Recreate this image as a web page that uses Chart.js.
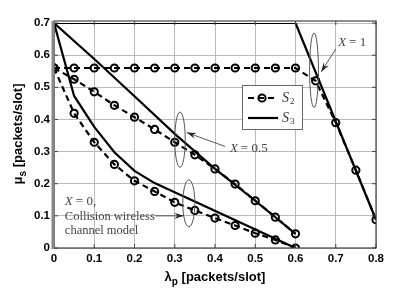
<!DOCTYPE html>
<html>
<head>
<meta charset="utf-8">
<script src="https://cdn.jsdelivr.net/npm/chart.js@4.4.1/dist/chart.umd.min.js"></script>
<style>
  html, body { margin: 0; padding: 0; background: #fff; }
  #wrap { width: 415px; height: 288px; position: relative; }
</style>
</head>
<body>
<div id="wrap"><canvas id="c"></canvas></div>
<script>
// --- data ---
const xTicks = [0, 0.1, 0.2, 0.3, 0.4, 0.5, 0.6, 0.7, 0.8];
const yTicks = [0, 0.1, 0.2, 0.3, 0.4, 0.5, 0.6, 0.7];

// X = 1
const s3x1_x = [0, 0.6, 0.8];
const s3x1_y = [0.7, 0.7, 0.088];
const s2x1_x = [0, 0.05, 0.1, 0.15, 0.2, 0.25, 0.3, 0.35, 0.4, 0.45, 0.5, 0.55, 0.6, 0.65, 0.7, 0.75, 0.8];
const s2x1_y = [0.56, 0.56, 0.56, 0.56, 0.56, 0.56, 0.56, 0.56, 0.56, 0.56, 0.56, 0.56, 0.56, 0.52, 0.39, 0.242, 0.088];

// X = 0.5
const s3x05_x = [0, 0.1, 0.2, 0.3, 0.4, 0.5, 0.6];
const s3x05_y = [0.7, 0.588, 0.472, 0.355, 0.246, 0.147, 0.044];
const s2x05_x = [0, 0.05, 0.1, 0.15, 0.2, 0.25, 0.3, 0.35, 0.4, 0.45, 0.5, 0.55, 0.6];
const s2x05_y = [0.56, 0.525, 0.486, 0.444, 0.407, 0.369, 0.329, 0.29, 0.246, 0.199, 0.147, 0.096, 0.044];

// X = 0 (collision channel)
const s3x0_x = [0, 0.05, 0.1, 0.15, 0.2, 0.25, 0.6];
const s3x0_y = [0.7, 0.473, 0.377, 0.298, 0.24, 0.202, 0];
const s2x0_x = [0, 0.05, 0.1, 0.15, 0.2, 0.25, 0.3, 0.35, 0.4, 0.45, 0.5, 0.55, 0.6];
const s2x0_y = [0.56, 0.419, 0.329, 0.26, 0.209, 0.176, 0.142, 0.117, 0.093, 0.07, 0.046, 0.025, 0];

const pts = (xs, ys) => xs.map((x, i) => ({ x: x, y: ys[i] }));

const solid = (xs, ys) => ({
    data: pts(xs, ys), borderColor: '#000', borderWidth: 2.2,
    pointRadius: 0, tension: 0, fill: false
});
const dashed = (xs, ys) => ({
    data: pts(xs, ys), borderColor: '#000', borderWidth: 2.2, borderDash: [6, 4],
    pointRadius: 3.6, pointBorderWidth: 2, pointBorderColor: '#000',
    pointBackgroundColor: 'rgba(0,0,0,0)', tension: 0, fill: false
});

const tickFont = { family: '"Liberation Sans", Arial, sans-serif', size: 11.5, weight: 'bold' };

// --- overlay: frame, axis titles, legend, notes ---
const overlay = {
    id: 'overlay',
    afterDraw(chart) {
        const ctx = chart.ctx, a = chart.chartArea;
        const xs = chart.scales.x, ys = chart.scales.y;
        const X = v => xs.getPixelForValue(v), Y = v => ys.getPixelForValue(v);
        ctx.save();

        // frame + inward ticks
        ctx.strokeStyle = '#444'; ctx.lineWidth = 1.2;
        ctx.strokeRect(a.left, a.top - 2, a.right - a.left, a.bottom - a.top + 2);
        ctx.lineWidth = 1;
        ctx.beginPath();
        xTicks.forEach(v => {
            ctx.moveTo(X(v), a.bottom); ctx.lineTo(X(v), a.bottom - 4);
            ctx.moveTo(X(v), a.top - 2); ctx.lineTo(X(v), a.top + 2);
        });
        yTicks.forEach(v => {
            ctx.moveTo(a.left, Y(v)); ctx.lineTo(a.left + 4, Y(v));
            ctx.moveTo(a.right, Y(v)); ctx.lineTo(a.right - 4, Y(v));
        });
        ctx.stroke();
        ctx.strokeStyle = '#888'; ctx.lineWidth = 3;
        ctx.beginPath(); ctx.moveTo(a.left - 1, a.top - 2); ctx.lineTo(a.left - 1, a.bottom + 1); ctx.stroke();

        // axis titles
        ctx.fillStyle = '#000';
        ctx.font = 'bold 13px "Liberation Sans", Arial, sans-serif';
        ctx.textBaseline = 'alphabetic';
        const xt1 = '\u03bb', xt2 = 'p', xt3 = ' [packets/slot]';
        const w1 = ctx.measureText(xt1).width, w3 = ctx.measureText(xt3).width;
        ctx.font = 'bold 10px "Liberation Sans", Arial, sans-serif';
        const w2 = ctx.measureText(xt2).width;
        let sx = (a.left + a.right) / 2 - (w1 + w2 + w3) / 2, by = 281;
        ctx.font = 'bold 13px "Liberation Sans", Arial, sans-serif';
        ctx.fillText(xt1, sx, by);
        ctx.font = 'bold 10px "Liberation Sans", Arial, sans-serif';
        ctx.fillText(xt2, sx + w1, by + 4);
        ctx.font = 'bold 13px "Liberation Sans", Arial, sans-serif';
        ctx.fillText(xt3, sx + w1 + w2, by);

        ctx.save();
        ctx.translate(22, 134);
        ctx.rotate(-Math.PI / 2);
        const yt1 = '\u03bc', yt2 = 's', yt3 = ' [packets/slot]';
        const v1 = ctx.measureText(yt1).width, v3 = ctx.measureText(yt3).width;
        ctx.font = 'bold 10px "Liberation Sans", Arial, sans-serif';
        const v2 = ctx.measureText(yt2).width;
        let tx = -(v1 + v2 + v3) / 2;
        ctx.font = 'bold 13px "Liberation Sans", Arial, sans-serif';
        ctx.fillText(yt1, tx, 0);
        ctx.font = 'bold 10px "Liberation Sans", Arial, sans-serif';
        ctx.fillText(yt2, tx + v1, 4);
        ctx.font = 'bold 13px "Liberation Sans", Arial, sans-serif';
        ctx.fillText(yt3, tx + v1 + v2, 0);
        ctx.restore();

        // ellipses
        ctx.strokeStyle = '#555'; ctx.lineWidth = 1;
        const ell = (cx, cy, rx, ry) => {
            ctx.beginPath();
            ctx.ellipse(X(cx), Y(cy), Math.abs(X(cx + rx) - X(cx)), Math.abs(Y(cy + ry) - Y(cy)), 0, 0, Math.PI * 2);
            ctx.stroke();
        };
        ell(0.646, 0.553, 0.011, 0.116);
        ell(0.313, 0.337, 0.013, 0.086);
        ell(0.335, 0.139, 0.015, 0.073);

        // arrows
        const arrow = (x0, y0, x1, y1) => {
            const px0 = X(x0), py0 = Y(y0), px1 = X(x1), py1 = Y(y1);
            const ang = Math.atan2(py1 - py0, px1 - px0);
            ctx.strokeStyle = '#444'; ctx.fillStyle = '#222'; ctx.lineWidth = 0.9;
            ctx.beginPath(); ctx.moveTo(px0, py0); ctx.lineTo(px1, py1); ctx.stroke();
            ctx.beginPath();
            ctx.moveTo(px1, py1);
            ctx.lineTo(px1 - 10 * Math.cos(ang - 0.32), py1 - 10 * Math.sin(ang - 0.32));
            ctx.lineTo(px1 - 6 * Math.cos(ang), py1 - 6 * Math.sin(ang));
            ctx.lineTo(px1 - 10 * Math.cos(ang + 0.32), py1 - 10 * Math.sin(ang + 0.32));
            ctx.closePath(); ctx.fill();
        };
        arrow(0.70, 0.619, 0.664, 0.548);
        arrow(0.425, 0.316, 0.33, 0.359);
        arrow(0.251, 0.1, 0.322, 0.1);

        // notes
        ctx.fillStyle = '#444';
        const note = (str, x, y) => {
            ctx.font = 'italic 13px "Liberation Serif", serif';
            ctx.fillText('X', x, y);
            const wx = ctx.measureText('X').width;
            ctx.font = '13px "Liberation Serif", serif';
            ctx.fillText(str, x + wx + 3, y);
        };
        ctx.textBaseline = 'middle';
        note('= 1', X(0.706), Y(0.64));
        note('= 0.5', X(0.437), Y(0.309));
        note('= 0,', X(0.027), Y(0.143));
        ctx.font = '12.5px "Liberation Serif", serif';
        ctx.fillText('Collision wireless', X(0.027), Y(0.097));
        ctx.fillText('channel model', X(0.027), Y(0.054));

        // legend box
        const lx = 242, ly = 85, lw = 60, lh = 44;
        ctx.fillStyle = '#fff'; ctx.fillRect(lx, ly, lw, lh);
        ctx.strokeStyle = '#666'; ctx.lineWidth = 1; ctx.strokeRect(lx + 0.5, ly + 0.5, lw, lh);
        ctx.strokeStyle = '#000'; ctx.lineWidth = 2.2;
        ctx.setLineDash([6, 4]);
        ctx.beginPath(); ctx.moveTo(lx + 6, ly + 13); ctx.lineTo(lx + 36, ly + 13); ctx.stroke();
        ctx.setLineDash([]);
        ctx.lineWidth = 2;
        ctx.beginPath(); ctx.arc(lx + 20, ly + 13, 3.6, 0, Math.PI * 2); ctx.stroke();
        ctx.lineWidth = 2.2;
        ctx.beginPath(); ctx.moveTo(lx + 6, ly + 33); ctx.lineTo(lx + 36, ly + 33); ctx.stroke();
        ctx.fillStyle = '#333';
        const lab = (sub, y) => {
            ctx.font = 'italic 14px "Liberation Serif", serif';
            ctx.fillText('S', lx + 40, y);
            ctx.font = '9px "Liberation Serif", serif';
            ctx.fillText(sub, lx + 48, y + 4);
        };
        lab('2', ly + 13);
        lab('3', ly + 33);
        ctx.restore();
    }
};

new Chart(document.getElementById('c'), {
    type: 'line',
    data: {
        datasets: [
            solid(s3x1_x, s3x1_y), dashed(s2x1_x, s2x1_y),
            solid(s3x05_x, s3x05_y), dashed(s2x05_x, s2x05_y),
            solid(s3x0_x, s3x0_y), dashed(s2x0_x, s2x0_y)
        ]
    },
    options: {
        responsive: true,
        maintainAspectRatio: false,
        animation: false,
        layout: { padding: { top: 23, right: 39, left: 0, bottom: 0 } },
        plugins: { legend: { display: false }, tooltip: { enabled: false } },
        scales: {
            x: {
                type: 'linear', min: 0, max: 0.8,
                afterBuildTicks: s => { s.ticks = xTicks.map(v => ({ value: v })); },
                afterFit: s => { s.height = 40; },
                grid: { color: '#bbb', borderDash: [1, 3], drawTicks: false },
                border: { display: false },
                ticks: { padding: 4, color: '#000', font: tickFont, callback: v => v === 0 ? '0' : v.toFixed(1) }
            },
            y: {
                type: 'linear', min: 0, max: 0.7,
                afterBuildTicks: s => { s.ticks = yTicks.map(v => ({ value: v })); },
                afterFit: s => { s.width = 54; },
                grid: { color: '#bbb', borderDash: [1, 3], drawTicks: false },
                border: { display: false },
                ticks: { padding: 4, color: '#000', font: tickFont, callback: v => v === 0 ? '0' : v.toFixed(1) }
            }
        }
    },
    plugins: [overlay]
});
</script>
</body>
</html>
